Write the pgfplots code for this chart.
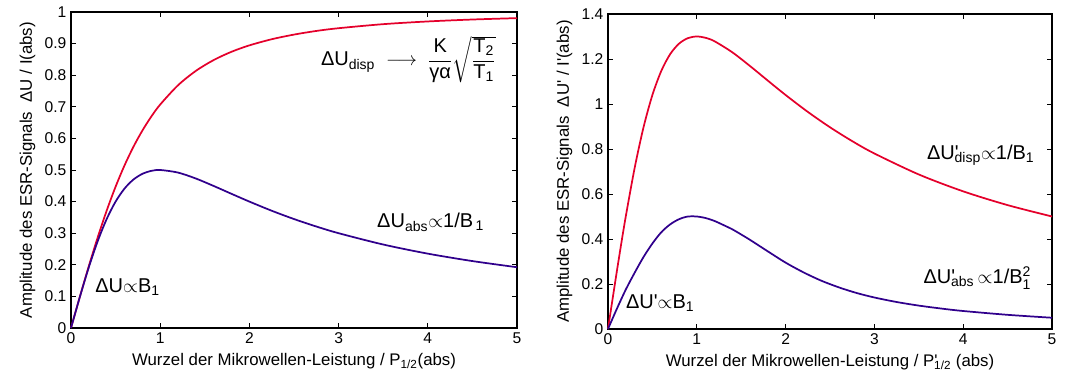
\documentclass[border=0pt]{standalone}
\usepackage{fontspec}
\setmainfont[Ligatures=TeXOff]{Liberation Sans}
\usepackage{amsmath}
\usepackage{pgfplots}
\pgfplotsset{compat=1.18}
\definecolor{cred}{RGB}{228,0,43}
\definecolor{cblue}{RGB}{48,0,140}
\pgfplotsset{myax/.style={
  scale only axis, xmin=0, xmax=5, ymin=0,
  axis line style={line width=1.1pt},
  tick style={line width=0.7pt, black},
  major tick length=3.5pt,
  /pgf/number format/assume math mode=true,
  ticklabel style={font=\fontsize{11.7}{13}\selectfont},
  label style={font=\fontsize{12.6}{14}\selectfont},
  xtick={0,1,2,3,4,5},
  clip=false,
  every axis plot/.append style={line width=1.3pt, no markers, smooth}
}}
\newcommand{\ann}{\fontsize{15}{17}\selectfont}
\begin{document}
\begin{tikzpicture}
\useasboundingbox (-53.25pt,-37.5pt) rectangle (757.5pt,246pt);
\begin{axis}[myax, width=334.5pt, height=237pt, ymax=1,
  ytick={0,0.1,0.2,0.3,0.4,0.5,0.6,0.7,0.8,0.9,1},
  xlabel={Wurzel der Mikrowellen-Leistung / P\textsubscript{1/2}(abs)},
  ylabel={Amplitude des ESR-Signals\ \ ΔU / I(abs)}]
\addplot[cred] coordinates {(0,0) (0.1,0.0995) (0.2,0.1961) (0.3,0.2873) (0.4,0.3714) (0.5,0.4472) (0.6,0.5145) (0.7,0.5735) (0.8,0.6247) (0.9,0.6690) (1.0,0.7071) (1.2,0.7682) (1.4,0.8137) (1.6,0.8480) (1.8,0.8742) (2.0,0.8944) (2.25,0.9138) (2.5,0.9285) (2.75,0.9400) (3,0.9487) (3.5,0.9615) (4,0.9701) (4.5,0.9762) (5,0.9806)};
\addplot[cblue] coordinates {(0,0) (0.1,0.0990) (0.2,0.1923) (0.3,0.2752) (0.4,0.3448) (0.5,0.4) (0.6,0.4412) (0.7,0.4698) (0.8,0.4878) (0.9,0.4972) (1.0,0.5) (1.2,0.4918) (1.4,0.4730) (1.6,0.4494) (1.8,0.4245) (2.0,0.4) (2.25,0.3711) (2.5,0.3448) (2.75,0.3212) (3,0.3) (3.5,0.2642) (4,0.2353) (4.5,0.2118) (5,0.1923)};
\node[anchor=west, font=\ann, inner sep=0pt] at (axis cs:2.8,0.85)
  {$\text{ΔU}_{\text{disp}}\ \longrightarrow\ \dfrac{\text{K}}{\text{γα}}\sqrt{\dfrac{\text{T\textsubscript{2}}}{\text{T\textsubscript{1}}}}$};
\node[anchor=west, font=\ann, inner sep=0pt] at (axis cs:3.43,0.335)
  {ΔU\textsubscript{abs}$\propto$1/B\textsubscript{\,1}};
\node[anchor=west, font=\ann, inner sep=0pt] at (axis cs:0.27,0.13)
  {ΔU$\propto$B\textsubscript{1}};
\end{axis}
\begin{axis}[myax, at={(402.75pt,-0.75pt)}, width=333pt, height=236.25pt, ymax=1.4,
  ytick={0,0.2,0.4,0.6,0.8,1,1.2,1.4},
  xlabel={Wurzel der Mikrowellen-Leistung / P'\kern-0.2em\textsubscript{1/2} (abs)},
  ylabel={Amplitude des ESR-Signals\ \ ΔU' / I'(abs)}]
\addplot[cred] coordinates {(0,0) (0.05,0.1297) (0.1,0.2574) (0.15,0.3814) (0.2,0.5) (0.3,0.7156) (0.4,0.8966) (0.5,1.04) (0.6,1.147) (0.7,1.2215) (0.8,1.2683) (0.9,1.2928) (1.0,1.3) (1.1,1.2941) (1.2,1.2787) (1.4,1.2297) (1.6,1.1685) (1.8,1.1038) (2.0,1.04) (2.25,0.965) (2.5,0.8966) (2.75,0.835) (3,0.78) (3.5,0.6868) (4,0.6118) (4.5,0.5506) (5,0.5)};
\addplot[cblue] coordinates {(0,0) (0.1,0.09) (0.2,0.175) (0.3,0.25) (0.4,0.32) (0.5,0.38) (0.6,0.43) (0.7,0.465) (0.8,0.488) (0.9,0.50) (1.0,0.50) (1.1,0.493) (1.2,0.48) (1.3,0.462) (1.4,0.443) (1.5,0.42) (1.6,0.396) (1.8,0.345) (2.0,0.295) (2.2,0.252) (2.4,0.215) (2.6,0.185) (2.8,0.16) (3.0,0.14) (3.25,0.12) (3.5,0.104) (3.75,0.091) (4.0,0.08) (4.5,0.063) (5.0,0.05)};
\node[anchor=west, font=\ann, inner sep=0pt] at (axis cs:3.59,0.773)
  {ΔU'\kern-0.2em\textsubscript{disp}$\propto$1/B\textsubscript{1}};
\node[anchor=west, font=\ann, inner sep=0pt] at (axis cs:3.55,0.227)
  {ΔU'\kern-0.2em\textsubscript{abs}\,$\propto$1/B$^{\text{2}}_{\text{1}}$};
\node[anchor=west, font=\ann, inner sep=0pt] at (axis cs:0.2,0.115)
  {ΔU'$\propto$B\textsubscript{1}};
\end{axis}
\end{tikzpicture}
\end{document}
